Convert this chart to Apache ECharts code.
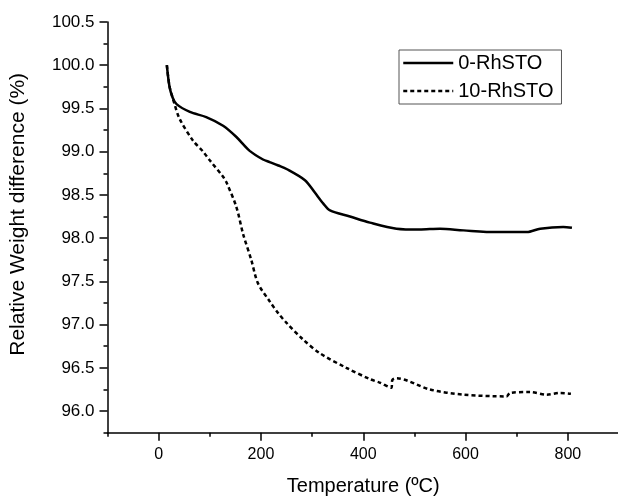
<!DOCTYPE html>
<html><head><meta charset="utf-8">
<script src="https://cdn.jsdelivr.net/npm/echarts@6/dist/echarts.min.js"></script>
<style>html,body{margin:0;padding:0;background:#fff}#c{width:618px;height:497px}</style>
</head><body><div id="c"></div>
<script>
const seriesNames = ['0-RhSTO', '10-RhSTO'];
const temp0 = [16, 21, 27, 35, 61, 93, 126, 152, 178, 204, 217, 234, 250, 286, 305, 322, 335, 374, 413, 465, 510, 550, 596, 661, 720, 746, 791, 808];
const weight0 = [100.0, 99.76, 99.63, 99.55, 99.46, 99.40, 99.30, 99.17, 99.01, 98.91, 98.88, 98.84, 98.80, 98.67, 98.53, 98.40, 98.32, 98.25, 98.18, 98.11, 98.10, 98.11, 98.09, 98.07, 98.07, 98.11, 98.13, 98.12];
const temp10 = [16, 21, 27, 30, 41, 67, 87, 100, 126, 133, 152, 165, 181, 194, 217, 234, 250, 282, 315, 367, 413, 432, 455, 457, 465, 530, 596, 680, 687, 726, 759, 785, 806];
const weight10 = [100.0, 99.76, 99.63, 99.57, 99.38, 99.13, 99.00, 98.90, 98.71, 98.64, 98.36, 98.05, 97.75, 97.48, 97.27, 97.13, 97.02, 96.83, 96.67, 96.50, 96.37, 96.33, 96.27, 96.36, 96.38, 96.25, 96.19, 96.17, 96.21, 96.22, 96.19, 96.21, 96.20];
const xMajorTicks = [0, 200, 400, 600, 800];
const xMinorTicks = [-100, 100, 300, 500, 700, 900];
const yMajorTicks = [96.0, 96.5, 97.0, 97.5, 98.0, 98.5, 99.0, 99.5, 100.0, 100.5];
const yMinorTicks = [95.75, 96.25, 96.75, 97.25, 97.75, 98.25, 98.75, 99.25, 99.75, 100.25];

const chart = echarts.init(document.getElementById('c'), null, {renderer: 'canvas'});
const font = 'Liberation Sans, Arial, sans-serif';
const X = {min: -100, max: 900};
const Y = {min: 95.75, max: 100.5};
const option = {
  animation: false,
  backgroundColor: '#fff',
  textStyle: {fontFamily: font, color: '#000'},
  grid: {left: 107.5, top: 22, width: 511.5, height: 410.7, containLabel: false, outerBoundsMode: 'none'},
  xAxis: [{
    type: 'value', min: X.min, max: X.max, position: 'bottom',
    name: 'Temperature (ºC)', nameLocation: 'middle', nameGap: 44,
    nameTextStyle: {fontSize: 20, color: '#000', fontFamily: font},
    axisLine: {show: true, onZero: false, lineStyle: {color: '#000', width: 1.5}},
    axisTick: {show: true, inside: false, length: 8, customValues: xMajorTicks, lineStyle: {color: '#000', width: 1.5}},
    axisLabel: {show: true, customValues: xMajorTicks, fontSize: 16, color: '#000', margin: 14, fontFamily: font},
    splitLine: {show: false}
  }, {
    type: 'value', min: X.min, max: X.max, position: 'bottom', offset: 0,
    axisLine: {show: false, onZero: false},
    axisTick: {show: true, inside: false, length: 4, customValues: xMinorTicks, lineStyle: {color: '#000', width: 1.5}},
    axisLabel: {show: false},
    splitLine: {show: false}
  }],
  yAxis: [{
    type: 'value', min: Y.min, max: Y.max, position: 'left',
    name: 'Relative Weight difference (%)', nameLocation: 'middle', nameGap: 79,
    nameTextStyle: {fontSize: 21, color: '#000', fontFamily: font, padding: [0, 0, 0, 26]},
    axisLine: {show: true, onZero: false, lineStyle: {color: '#000', width: 1.5}},
    axisTick: {show: true, inside: false, length: 8, customValues: yMajorTicks, lineStyle: {color: '#000', width: 1.5}},
    axisLabel: {show: true, customValues: yMajorTicks, fontSize: 17, color: '#000', margin: 13, fontFamily: font,
      formatter: v => Number(v).toFixed(1)},
    splitLine: {show: false}
  }, {
    type: 'value', min: Y.min, max: Y.max, position: 'left', offset: 0,
    axisLine: {show: false, onZero: false},
    axisTick: {show: true, inside: false, length: 4, customValues: yMinorTicks, lineStyle: {color: '#000', width: 1.5}},
    axisLabel: {show: false},
    splitLine: {show: false}
  }],
  legend: {
    show: true, orient: 'vertical', left: 399, top: 50,
    borderColor: '#555', borderWidth: 1, padding: [3, 8, 3, 3],
    itemWidth: 50, itemHeight: 20, itemGap: 8,
    textStyle: {fontSize: 20, color: '#000', fontFamily: font},
    itemStyle: {opacity: 0, borderWidth: 0},
    lineStyle: {width: 2.5},
    data: seriesNames
  },
  series: [{
    name: seriesNames[0], type: 'line', xAxisIndex: 0, yAxisIndex: 0,
    data: temp0.map((t, i) => [t, weight0[i]]),
    symbol: 'none', smooth: 0.3,
    lineStyle: {color: '#000', width: 2.5, type: 'solid'},
    itemStyle: {color: '#000'}
  }, {
    name: seriesNames[1], type: 'line', xAxisIndex: 0, yAxisIndex: 0,
    data: temp10.map((t, i) => [t, weight10[i]]),
    symbol: 'none', smooth: 0.3,
    lineStyle: {color: '#000', width: 2.5, type: [4, 3]},
    itemStyle: {color: '#000'}
  }]
};
chart.setOption(option);
</script>
</body></html>
